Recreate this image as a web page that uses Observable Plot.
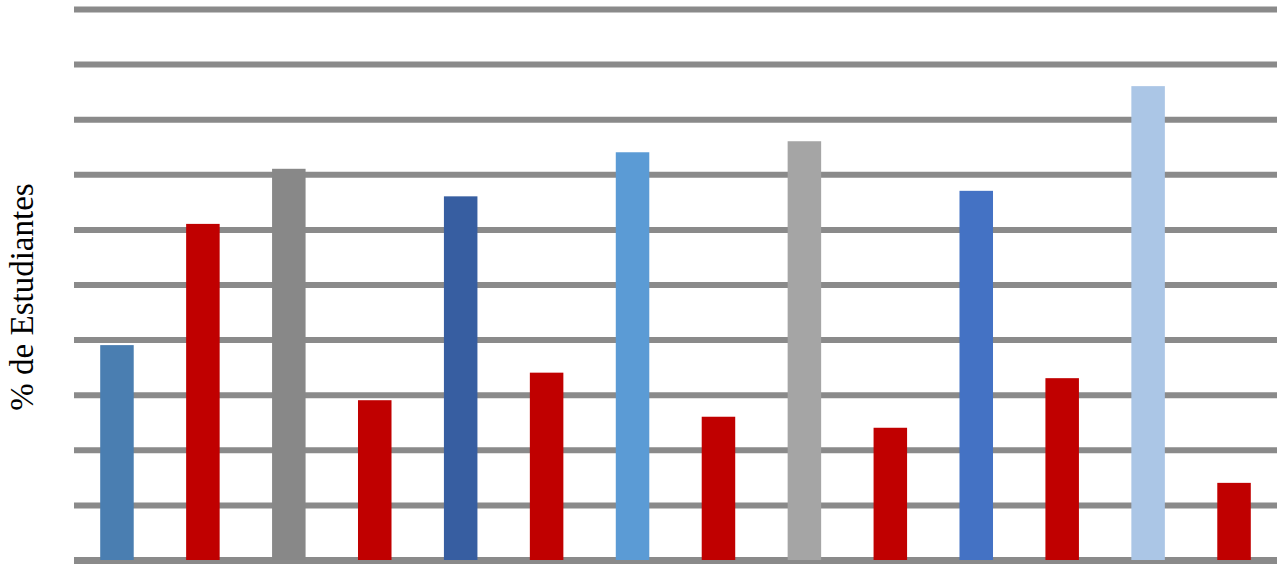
<!DOCTYPE html>
<html>
<head>
<meta charset="utf-8">
<script src="https://cdn.jsdelivr.net/npm/d3@7"></script>
<script src="https://cdn.jsdelivr.net/npm/@observablehq/plot@0.6"></script>
<style>
  html, body { margin: 0; padding: 0; background: #fff; overflow: hidden; }
</style>
</head>
<body>
<div id="chart"></div>
<script>
const categories = ["1","2","3","4","5","6","7","8","9","10","11","12","13","14"];
const values = [3.9, 6.1, 7.1, 2.9, 6.6, 3.4, 7.4, 2.6, 7.6, 2.4, 6.7, 3.3, 8.6, 1.4];
const palette = ["#4a7eb1","#c00000","#888888","#c00000","#375ea1","#c00000","#5b9bd5","#c00000","#a5a5a5","#c00000","#4472c4","#c00000","#abc6e6","#c00000"];
const gridTicks = [0,1,2,3,4,5,6,7,8,9,10];
const yLabel = "% de Estudiantes";

const data = categories.map((c, i) => ({cat: c, value: values[i]}));

const chart = Plot.plot({
  width: 1286,
  height: 575,
  marginLeft: 74,
  marginRight: 9,
  marginTop: 9,
  marginBottom: 15,
  x: {type: "band", domain: categories, paddingInner: 0.61, paddingOuter: 0.305, round: false, axis: null},
  y: {domain: [0, 10], axis: null},
  color: {type: "ordinal", domain: categories, range: palette},
  marks: [
    Plot.ruleY(gridTicks, {stroke: "#8a8a8a", strokeWidth: d => d === 0 ? 7 : 6}),
    Plot.barY(data, {x: "cat", y: "value", fill: "cat"}),
    Plot.text([yLabel], {
      frameAnchor: "left",
      rotate: -90,
      dx: -42,
      dy: 12,
      textAnchor: "middle",
      lineAnchor: "bottom",
      fontSize: 33,
      fontFamily: "Liberation Serif",
      fill: "#000"
    })
  ]
});
document.getElementById("chart").appendChild(chart);
</script>
</body>
</html>
